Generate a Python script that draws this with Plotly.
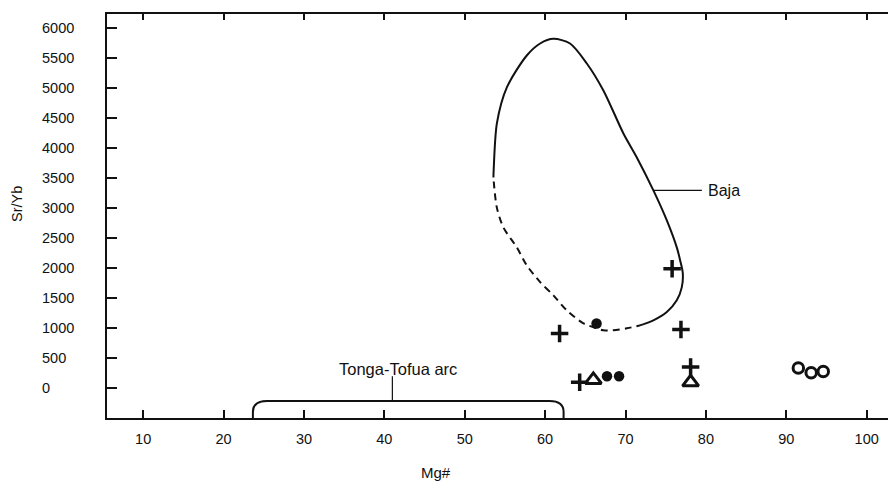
import plotly.graph_objects as go

# ---------------- data ----------------
xtick_vals = [10, 20, 30, 40, 50, 60, 70, 80, 90, 100]
ytick_vals = [0, 500, 1000, 1500, 2000, 2500, 3000, 3500, 4000, 4500, 5000, 5500, 6000]

# Baja field outline: solid part (left side -> peak -> right side -> bottom)
baja_solid_x = [53.57, 53.6, 54.0, 55.24, 57.72, 59.38, 61.03, 63.10, 65.19, 67.25, 69.74,
                71.41, 73.47, 75.14, 76.38, 76.80, 77.13, 77.00, 76.38, 75.14, 73.47, 72.19]
baja_solid_y = [3512, 3630, 4412, 5012, 5545, 5745, 5823, 5745, 5412, 4962, 4245,
                3845, 3295, 2795, 2345, 2128, 1912, 1678, 1462, 1267, 1128, 1062]
# Baja field outline: dashed (inferred) part
baja_dash_x = [72.19, 71.8, 70.16, 68.49, 67.25, 66.43, 64.77, 62.70, 61.03, 59.38,
               57.72, 56.48, 54.81, 53.99, 53.57]
baja_dash_y = [1062, 1045, 995, 962, 962, 995, 1078, 1295, 1545, 1767,
               2045, 2345, 2678, 3012, 3512]

# Tonga-Tofua arc Mg# range
tonga_range = [23.65, 62.3]

# sample groups
cross_x = [61.8, 75.8, 76.9, 64.3, 78.1]
cross_y = [910, 1990, 975, 95, 350]
tri_x = [66.0, 78.1]
tri_y = [135, 95]
dot_x = [66.4, 67.7, 69.2]
dot_y = [1075, 195, 195]
ring_x = [91.5, 93.1, 94.6]
ring_y = [335, 255, 275]

x_range = [5.5, 103.65]
y_range = [-500, 6237]

FONT = "Liberation Sans, Arial, sans-serif"
INK = "#111111"

fig = go.Figure()

fig.add_trace(go.Scatter(x=baja_solid_x, y=baja_solid_y, mode="lines",
                         line=dict(color=INK, width=2, shape="spline", smoothing=0.8),
                         hoverinfo="skip", showlegend=False))
fig.add_trace(go.Scatter(x=baja_dash_x, y=baja_dash_y, mode="lines",
                         line=dict(color=INK, width=2, shape="spline", smoothing=0.8, dash="7px,5px"),
                         hoverinfo="skip", showlegend=False))

fig.add_trace(go.Scatter(x=cross_x, y=cross_y, mode="markers",
                         marker=dict(symbol="cross-thin", size=12.5,
                                     line=dict(color=INK, width=3.5)),
                         showlegend=False))
fig.add_trace(go.Scatter(x=tri_x, y=tri_y, mode="markers",
                         marker=dict(symbol="triangle-up-open", size=14,
                                     color=INK, line=dict(color=INK, width=3)),
                         showlegend=False))
fig.add_trace(go.Scatter(x=dot_x, y=dot_y, mode="markers",
                         marker=dict(symbol="circle", size=10.5, color=INK,
                                     line=dict(width=0)),
                         showlegend=False))
fig.add_trace(go.Scatter(x=ring_x, y=ring_y, mode="markers",
                         marker=dict(symbol="circle-open", size=10.5, color=INK,
                                     line=dict(color=INK, width=3)),
                         showlegend=False))

# invisible trace to anchor the mirrored axes
fig.add_trace(go.Scatter(x=[x_range[0]], y=[y_range[0]], xaxis="x2", yaxis="y2",
                         mode="markers", marker=dict(opacity=0), hoverinfo="skip",
                         showlegend=False))

# Tonga-Tofua bracket
x0, x1 = tonga_range
top, base, bend, r = -217, -500, -400, 1.75
fig.add_shape(type="path", xref="x", yref="y", layer="above",
              path=(f"M {x0},{base} L {x0},{bend} Q {x0},{top} {x0 + r},{top} "
                    f"L {x1 - r},{top} Q {x1},{top} {x1},{bend} L {x1},{base}"),
              line=dict(color=INK, width=2))
tonga_mid = 41.0
fig.add_shape(type="line", xref="x", yref="y", x0=tonga_mid, x1=tonga_mid, y0=top, y1=195,
              line=dict(color=INK, width=1.2))
fig.add_annotation(x=41.76, y=323, xref="x", yref="y", text="Tonga-Tofua arc",
                   showarrow=False, font=dict(family=FONT, size=16.5, color=INK),
                   xanchor="center", yanchor="middle")

# Baja label
fig.add_shape(type="line", xref="x", yref="y", x0=73.47, x1=79.5, y0=3295, y1=3295,
              line=dict(color=INK, width=1.2))
fig.add_annotation(x=80.0, y=3295, xref="x", yref="y", text="Baja",
                   showarrow=False, font=dict(family=FONT, size=16, color=INK),
                   xanchor="left", yanchor="middle")

# y tick labels (left aligned)
for v in ytick_vals:
    fig.add_annotation(x=-0.0855, y=v, xref="paper", yref="y", text=str(v),
                       showarrow=False, xanchor="left", yanchor="middle",
                       font=dict(family=FONT, size=14.5, color=INK))

# axis titles
fig.add_annotation(x=0.417, y=-0.134, xref="paper", yref="paper", text="Mg#",
                   showarrow=False, xanchor="center", yanchor="middle",
                   font=dict(family=FONT, size=15, color=INK))
fig.add_annotation(x=-0.1135, y=0.531, xref="paper", yref="paper", text="Sr/Yb",
                   textangle=-90, showarrow=False, xanchor="center", yanchor="middle",
                   font=dict(family=FONT, size=14.5, color=INK))

# the page body has an 8px margin, so the figure is laid out 8px up/left
fig.update_layout(
    width=888, height=473,
    margin=dict(l=99, r=0, t=5.5, b=63.3, pad=0),
    paper_bgcolor="white", plot_bgcolor="white",
    font=dict(family=FONT, size=14.5, color=INK),
    xaxis=dict(range=x_range, tickvals=xtick_vals, ticktext=[str(v) for v in xtick_vals],
               ticks="inside", ticklen=8, tickwidth=2, tickcolor=INK,
               showline=True, linewidth=2, linecolor=INK, showgrid=False, zeroline=False,
               ticklabelstandoff=7, tickfont=dict(family=FONT, size=14.5, color=INK)),
    yaxis=dict(range=y_range, tickvals=ytick_vals, showticklabels=False,
               ticks="inside", ticklen=10, tickwidth=2, tickcolor=INK,
               showline=True, linewidth=2, linecolor=INK, showgrid=False, zeroline=False),
    xaxis2=dict(range=x_range, overlaying="x", side="top", anchor="y2", tickvals=xtick_vals,
                showticklabels=False, ticks="inside", ticklen=6, tickwidth=2, tickcolor=INK,
                showline=True, linewidth=2, linecolor=INK, showgrid=False, zeroline=False),
    yaxis2=dict(range=y_range, overlaying="y", side="right", anchor="x2", tickvals=ytick_vals,
                showticklabels=False, ticks="inside", ticklen=4, tickwidth=2, tickcolor=INK,
                showline=False, showgrid=False, zeroline=False),
)

fig.write_html("out.html")
